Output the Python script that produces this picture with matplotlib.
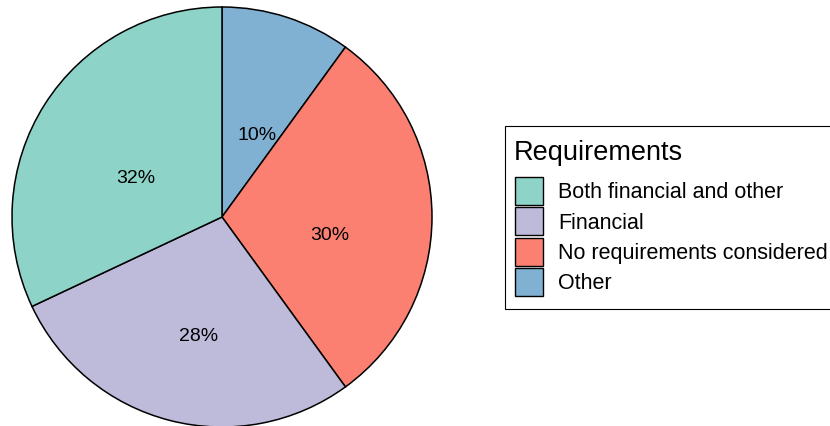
import matplotlib
matplotlib.use("Agg")
import matplotlib.pyplot as plt
import matplotlib.transforms as mtransforms
from matplotlib.patches import Rectangle
import numpy as np

# Share of cases by requirement type (legend order)
categories = ["Both financial and other", "Financial",
              "No requirements considered", "Other"]
shares = [32, 28, 30, 10]
colors = ["#8DD3C7", "#BEBADA", "#FB8072", "#80B1D3"]
legend_title = "Requirements"

plt.rcParams["font.family"] = ["Liberation Sans", "DejaVu Sans"]

W, H = 830, 426
fig = plt.figure(figsize=(W / 100, H / 100), dpi=100)
ax = fig.add_axes([0, 0, 1, 1])

# Pie drawn clockwise from 12 o'clock, last category first
cx, cy, R = 222, H - 217, 210
pie_vals = shares[::-1]
pie_cols = colors[::-1]
wedges, _ = ax.pie(pie_vals, colors=pie_cols, startangle=90, counterclock=False,
                   center=(cx, cy), radius=R, frame=True,
                   wedgeprops=dict(edgecolor="black", linewidth=1.1))
ax.set_xlim(0, W)
ax.set_ylim(0, H)
ax.set_aspect("auto")
ax.axis("off")

# Percentage labels at the middle of each slice
shift = mtransforms.offset_copy(ax.transData, fig=fig, x=2.5, y=-18, units="dots")
total = sum(pie_vals)
start = 0.0
for v in pie_vals:
    mid = (start + v / 2) / total * 2 * np.pi
    start += v
    x = cx + 0.5 * R * np.sin(mid)
    y = cy + 0.5 * R * np.cos(mid)
    ax.text(x, y, f"{v / total * 100:.0f}%", ha="center", va="center",
            fontsize=14, color="black", transform=shift)

# Legend box
box_left, box_top, box_bottom = 505, 126, 309
ax.add_patch(Rectangle((box_left, H - box_bottom), 400, box_bottom - box_top,
                       facecolor="white", edgecolor="black", linewidth=0.8,
                       clip_on=False))
ax.text(514, H - 160, legend_title, fontsize=19.5, ha="left", va="baseline")
key_top, key_size, pitch = 177, 28, 30.3
for i, (lab, col) in enumerate(zip(categories, colors)):
    top = key_top + i * pitch
    ax.add_patch(Rectangle((515, H - top - key_size), key_size, key_size,
                           facecolor=col, edgecolor="black", linewidth=1.0))
    ax.text(558, H - (top + key_size / 2 + 7.5), lab, fontsize=15.5,
            ha="left", va="baseline")

fig.savefig("out.png", dpi=100)
